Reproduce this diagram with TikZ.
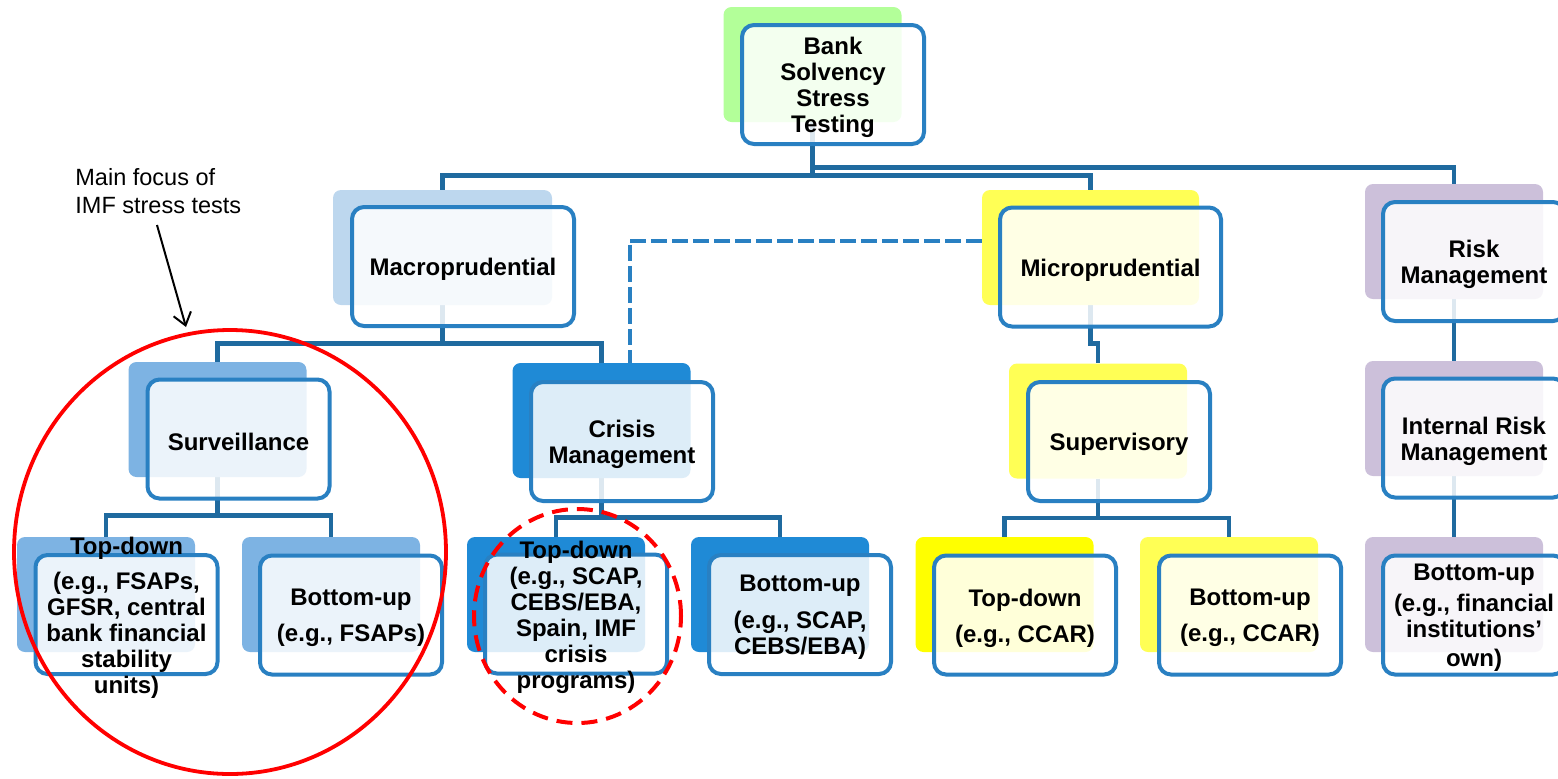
\documentclass[tikz,border=0pt]{standalone}
\usepackage{fontspec}
\setmainfont{Liberation Sans}
\usetikzlibrary{shapes.geometric,arrows.meta}
\pgfdeclarelayer{back}
\pgfsetlayers{back,main}
\definecolor{connc}{HTML}{1F6A9F}
\definecolor{boxline}{HTML}{2980C2}
\definecolor{cgreen}{HTML}{B3FF99}
\definecolor{clblue}{HTML}{BDD7EE}
\definecolor{cmblue}{HTML}{7DB3E3}
\definecolor{cdblue}{HTML}{1F8AD6}
\definecolor{cyel}{HTML}{FFFF55}
\definecolor{cyelb}{HTML}{FFFF00}
\definecolor{clav}{HTML}{CCC0DA}
\newcommand\bxfont{\fontsize{12}{13}\selectfont\bfseries}
\begin{document}
\begin{tikzpicture}[x=0.5pt,y=-0.5pt,
  bgbox/.style={rectangle, rounded corners=4pt, inner sep=0pt, minimum width=89pt, minimum height=57.5pt},
  widebg/.style={bgbox, minimum width=109.5pt},
  frbox/.style={rectangle, rounded corners=6pt, inner sep=0pt, draw=boxline, line width=2pt, fill=white, fill opacity=0.85, minimum width=91pt, minimum height=59.5pt},
  widefr/.style={frbox, minimum width=111pt},
  lbl/.style={font=\bxfont, align=center, inner sep=0pt, text=black, yshift=-1.5pt},
  conn/.style={draw=connc, line width=2.2pt},
  dashline/.style={draw=boxline, line width=2pt, dash pattern=on 8pt off 2.5pt}
]
\useasboundingbox (0,0) rectangle (1558,778);

% background rectangles
\node[bgbox, fill=cgreen] (topbg) at (812.5,64.5) {};
\node[widebg, fill=clblue] (macbg) at (442.5,247.5) {};
\node[bgbox, fill=cmblue] (survbg) at (217.5,419.5) {};
\node[bgbox, fill=cdblue] (crisbg) at (601.5,420.5) {};
\node[bgbox, fill=cmblue] (tdsbg) at (106,594.5) {};
\node[bgbox, fill=cmblue] (busbg) at (331,594.5) {};
\node[bgbox, fill=cdblue] (tdcbg) at (556,594.5) {};
\node[bgbox, fill=cdblue] (bucbg) at (780,594.5) {};
\node[widebg, fill=cyel, minimum width=108.5pt] (micbg) at (1090.5,247.5) {};
\node[bgbox, fill=cyel] (supbg) at (1098,421) {};
\node[bgbox, fill=cyelb] (tdubg) at (1004.5,594.5) {};
\node[bgbox, fill=cyel] (buubg) at (1229,594.5) {};
\node[bgbox, fill=clav] (riskbg) at (1454,241.5) {};
\node[bgbox, fill=clav] (intbg) at (1454,418.5) {};
\node[bgbox, fill=clav] (burbg) at (1454,594.5) {};

% front boxes
\node[frbox] (topfr) at (833,84.5) {};
\node[widefr] (macfr) at (463,266.5) {};
\node[frbox] (survfr) at (238.5,439) {};
\node[frbox] (crisfr) at (622,441.5) {};
\node[frbox] (tdsfr) at (126.5,614.5) {};
\node[frbox] (busfr) at (351,615) {};
\node[frbox] (tdcfr) at (576,614) {};
\node[frbox] (bucfr) at (800,614.5) {};
\node[widefr, minimum width=110.5pt] (micfr) at (1110.5,267) {};
\node[frbox] (supfr) at (1119,441.5) {};
\node[frbox] (tdufr) at (1025,615) {};
\node[frbox] (buufr) at (1250,615) {};
\node[frbox] (riskfr) at (1474,261.5) {};
\node[frbox] (intfr) at (1474,438) {};
\node[frbox] (burfr) at (1474,615) {};

% texts
\node[lbl] (toptx) at (topfr) {Bank\\Solvency\\Stress\\Testing};
\node[lbl] (mactx) at (macfr) {Macroprudential};
\node[lbl] (survtx) at (survfr) {Surveillance};
\node[lbl] (cristx) at (crisfr) {Crisis\\Management};
\node[lbl] (tdstx) at (tdsfr) {Top-down\\[4.5pt](e.g., FSAPs,\\GFSR, central\\bank financial\\stability\\units)};
\node[lbl] (bustx) at (busfr) {Bottom-up\\[5pt](e.g., FSAPs)};
\node[lbl] (tdctx) at (tdcfr) {Top-down\\(e.g., SCAP,\\CEBS/EBA,\\Spain, IMF\\crisis\\programs)};
\node[lbl] (buctx) at (bucfr) {Bottom-up\\[5.5pt](e.g., SCAP,\\CEBS/EBA)};
\node[lbl] (mictx) at (micfr) {Microprudential};
\node[lbl] (suptx) at (supfr) {Supervisory};
\node[lbl] (tdutx) at (tdufr) {Top-down\\[5pt](e.g., CCAR)};
\node[lbl] (buutx) at (buufr) {Bottom-up\\[5pt](e.g., CCAR)};
\node[lbl] (risktx) at (riskfr) {Risk\\Management};
\node[lbl] (inttx) at (intfr) {Internal Risk\\Management};
\node[lbl] (burtx) at (burfr) {Bottom-up\\[2.5pt](e.g., financial\\institutions’\\[1.5pt]own)};

% connectors
\begin{pgfonlayer}{back}
\draw[conn] (topbg.south) -- ++(0,53) coordinate (tj);
\draw[conn] (macbg.north) |- (tj) -| (micbg.north);
\draw[conn] (topbg.south) -- ++(0,45) -| (riskbg.north);
\draw[conn] (macbg.south) -- ++(0,38) coordinate (mj);
\draw[conn] (survbg.north) |- (mj) -| (crisbg.north);
\draw[conn] (survbg.south) -- ++(0,38) coordinate (sj);
\draw[conn] (tdsbg.north) |- (sj) -| (busbg.north);
\draw[conn] (crisbg.south) -- ++(0,39) coordinate (cj);
\draw[conn] (tdcbg.north) |- (cj) -| (bucbg.north);
\draw[conn] (micbg.south) -- ++(0,38) -| (supbg.north);
\draw[conn] (supbg.south) -- ++(0,39) coordinate (uj);
\draw[conn] (tdubg.north) |- (uj) -| (buubg.north);
\draw[conn] (riskbg.south) -- (intbg.north);
\draw[conn] (intbg.south) -- (burbg.north);
\draw[dashline] ([yshift=3.5pt]micbg.west) -| ([xshift=14pt]crisbg.north);
\end{pgfonlayer}

% highlights
\node[draw=red, line width=1.9pt, ellipse, inner sep=0pt, minimum width=216pt, minimum height=222pt] (focus) at (230,552) {};
\node[draw=red, line width=2pt, ellipse, inner sep=0pt, minimum width=103.5pt, minimum height=107pt, dash pattern=on 8pt off 4.5pt] (focus2) at (577.5,616) {};

\node[anchor=north west, inner sep=0pt, align=left, font=\fontsize{11.75}{14}\selectfont] (note) at (75,168) {Main focus of\\IMF stress tests};
\coordinate (arrs) at (157,225);
\coordinate (arre) at (186,327);
\draw[line width=1pt, -{Straight Barb[length=6pt,width=9pt]}] (arrs) -- (arre);
\end{tikzpicture}
\end{document}
